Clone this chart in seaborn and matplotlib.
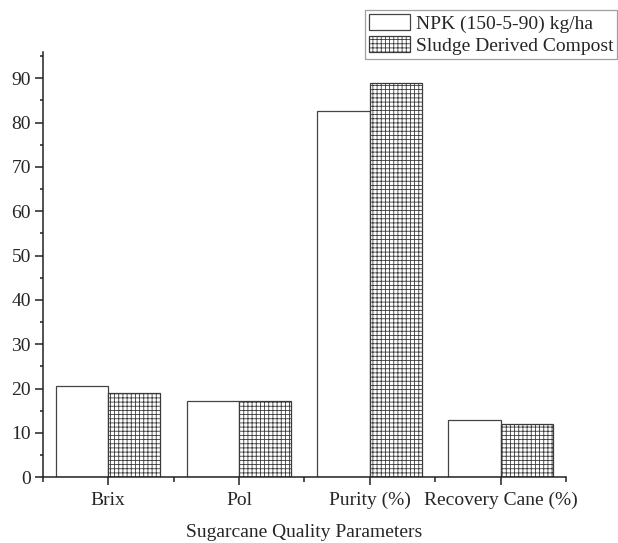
import matplotlib
matplotlib.use("Agg")
import matplotlib.pyplot as plt
from matplotlib.ticker import MultipleLocator, FixedLocator
import seaborn as sns
import pandas as pd

categories = ["Brix", "Pol", "Purity (%)", "Recovery Cane (%)"]
npk_values = [20.5, 17.3, 82.6, 13.0]
sludge_values = [19.1, 17.1, 89.0, 12.1]
series_names = ["NPK (150-5-90) kg/ha", "Sludge Derived Compost"]

df = pd.DataFrame({
    "Parameter": categories * 2,
    "Value": npk_values + sludge_values,
    "Treatment": [series_names[0]] * 4 + [series_names[1]] * 4,
})

sns.set_style("ticks")
plt.rcParams["font.family"] = ["Liberation Serif", "DejaVu Serif"]
plt.rcParams["hatch.linewidth"] = 0.6

fig = plt.figure(figsize=(6.18, 5.43), dpi=100)
ax = fig.add_axes([0.069, 0.121, 0.847, 0.784])

sns.barplot(data=df, x="Parameter", y="Value", hue="Treatment",
            order=categories, hue_order=series_names, ax=ax,
            width=0.8, legend=False)

styles = [dict(facecolor="white", edgecolor="#444444", hatch=None),
          dict(facecolor="white", edgecolor="#3a3a3a", hatch="++++")]
for cont, st in zip(ax.containers, styles):
    for p in cont.patches:
        p.set_facecolor(st["facecolor"])
        p.set_edgecolor(st["edgecolor"])
        p.set_linewidth(0.9)
        if st["hatch"]:
            p.set_hatch(st["hatch"])

ax.set_xlim(-0.5, 3.5)
ax.set_ylim(0, 96)
ax.yaxis.set_major_locator(MultipleLocator(10))
ax.yaxis.set_minor_locator(MultipleLocator(5))
ax.xaxis.set_minor_locator(FixedLocator([-0.5, 0.5, 1.5, 2.5, 3.5]))
ax.set_yticks(range(0, 91, 10))

for s in ["top", "right"]:
    ax.spines[s].set_visible(False)
for s in ["left", "bottom"]:
    ax.spines[s].set_linewidth(1.1)
    ax.spines[s].set_color("#222222")

ax.tick_params(axis="both", which="major", length=5.5, width=1.1,
               labelsize=14, color="#222222", direction="out", pad=3)
ax.tick_params(axis="y", which="minor", length=2.5, width=1.1, color="#222222")
ax.tick_params(axis="x", which="minor", length=3.4, width=1.1, color="#222222")
ax.tick_params(axis="x", which="major", pad=5)

ax.set_ylabel("")
ax.set_xlabel("Sugarcane Quality Parameters", fontsize=14, labelpad=11)

handles = [c.patches[0] for c in ax.containers]
leg = fig.legend(handles, series_names, loc="upper right",
                 bbox_to_anchor=(0.999, 0.981), fontsize=14,
                 frameon=True, fancybox=False, edgecolor="#888888",
                 borderaxespad=0, borderpad=0.2, handlelength=2.1,
                 handleheight=0.9, handletextpad=0.3, labelspacing=0.15)
leg.get_frame().set_linewidth(0.9)

fig.savefig("out.png", dpi=100)
